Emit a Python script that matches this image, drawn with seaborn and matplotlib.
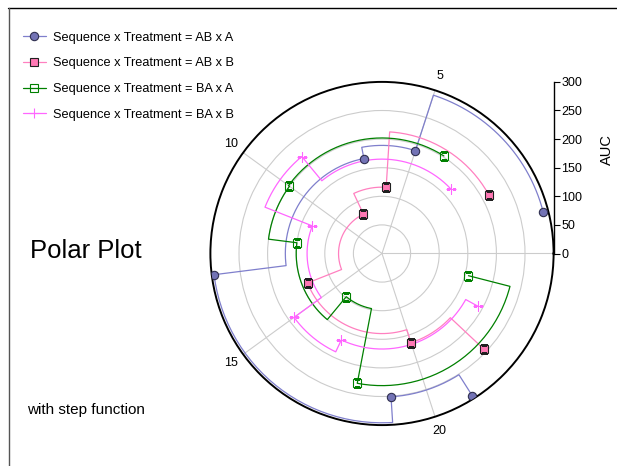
import numpy as np
import pandas as pd
import matplotlib
matplotlib.use("Agg")
import matplotlib.pyplot as plt
from matplotlib.lines import Line2D
import seaborn as sns

# subject number (angle) and AUC (radius) per sequence x treatment
ab_a_x = [1, 5, 7, 13, 19, 21]
ab_a_auc = [291, 189, 169, 296, 251, 295]
ab_b_x = [2, 6, 8, 14, 20, 22]
ab_b_auc = [213, 116, 76, 140, 164, 244]
ba_a_x = [4, 10, 12, 16, 18, 24]
ba_a_auc = [202, 200, 150, 98, 231, 156]
ba_b_x = [3, 9, 11, 15, 17, 23]
ba_b_auc = [165, 220, 131, 190, 167, 192]

labels = ["Sequence x Treatment = AB x A", "Sequence x Treatment = AB x B",
          "Sequence x Treatment = BA x A", "Sequence x Treatment = BA x B"]
theta_ticks = [0, 5, 10, 15, 20]
theta_labels = ["", "5", "10", "15", "20"]
r_grid = [50, 100, 150, 200, 250]
r_ticks = [0, 50, 100, 150, 200, 250, 300]
PERIOD = 25
RMAX = 300


def ang(x):
    return np.asarray(x, dtype=float) * 2 * np.pi / PERIOD


def step_path(xs, rs, n=60):
    # arc at r_i from x_i to x_(i+1), then radial jump to r_(i+1)
    th, rr = [], []
    for i in range(len(xs) - 1):
        t = np.linspace(ang(xs[i]), ang(xs[i + 1]), n)
        th.extend(t)
        rr.extend([rs[i]] * n)
    th.append(float(ang(xs[-1])))
    rr.append(rs[-1])
    return pd.DataFrame({"theta": th, "r": rr})


sns.set_theme(style="white")
plt.rcParams["font.family"] = ["Liberation Sans", "DejaVu Sans"]
plt.rcParams["text.color"] = "black"
plt.rcParams["xtick.color"] = "black"
plt.rcParams["ytick.color"] = "black"
plt.rcParams["xtick.labelcolor"] = "black"
plt.rcParams["ytick.labelcolor"] = "black"

fig = plt.figure(figsize=(6.17, 4.66), dpi=100)
fig.patch.set_facecolor("white")

ax = fig.add_axes([210.4 / 617, (466 - 253.5 - 171.6) / 466, 343.2 / 617, 343.2 / 466],
                  projection="polar")
ax.set_facecolor("none")
ax.set_ylim(0, RMAX)
ax.set_xticks(ang(theta_ticks))
ax.set_xticklabels(theta_labels, fontsize=9)
ax.set_yticks(r_grid)
ax.set_yticklabels([])
ax.grid(True, color="#cccccc", lw=0.8)
ax.spines["polar"].set_color("black")
ax.spines["polar"].set_linewidth(1.4)
ax.tick_params(axis="x", direction="in", length=5, width=0.8, color="black",
               labelcolor="black", pad=4)

series = [
    (ab_a_x, ab_a_auc, dict(color="#7f7fcc", marker="o", mfc="#7373b5", mec="#303050", ms=6)),
    (ab_b_x, ab_b_auc, dict(color="#ff80c0", marker="s", mfc="#ff78b4", mec="#202020", ms=6.4)),
    (ba_a_x, ba_a_auc, dict(color="#008000", marker="s", mfc="none", mec="#008000", ms=6)),
    (ba_b_x, ba_b_auc, dict(color="#ff66ff", marker="+", mfc="none", mec="#ff66ff", ms=7)),
]

handles = []
for (xs, rs, st), lab in zip(series, labels):
    df = step_path(xs, rs)
    sns.lineplot(x=df["theta"].values, y=df["r"].values, ax=ax, sort=False,
                 estimator=None, color=st["color"], lw=0.9)
    ax.plot(ang(xs), rs, ls="none", marker=st["marker"], mfc=st["mfc"],
            mec=st["mec"], ms=st["ms"], mew=0.8, zorder=5)
    handles.append(Line2D([], [], color=st["color"], lw=0.9, marker=st["marker"],
                          mfc=st["mfc"], mec=st["mec"], ms=st["ms"], mew=0.8))
ax.set_xlabel("")
ax.set_ylabel("")

# radial scale on the right
ax2 = fig.add_axes([553.5 / 617, (466 - 253.5) / 466, 0.0005, 171.6 / 466])
ax2.set_facecolor("none")
ax2.set_ylim(0, RMAX)
ax2.set_yticks(r_ticks)
for s in ["top", "bottom", "left"]:
    ax2.spines[s].set_visible(False)
ax2.spines["right"].set_color("black")
ax2.spines["right"].set_linewidth(1.0)
ax2.xaxis.set_visible(False)
ax2.yaxis.tick_right()
ax2.tick_params(axis="y", direction="out", length=4, width=0.8, color="black",
                labelcolor="black", labelsize=9, pad=1.5)
fig.text(607 / 617, 1 - 150 / 466, "AUC", fontsize=10.5, rotation=90,
         ha="center", va="center", color="black")

fig.legend(handles=handles, labels=labels, loc="upper left",
           bbox_to_anchor=(11 / 617, 1 - 20 / 466), frameon=False, fontsize=9.2,
           handlelength=1.85, handletextpad=0.55, labelspacing=1.08, numpoints=1,
           labelcolor="black")

fig.text(30 / 617, 1 - 251 / 466, "Polar Plot", fontsize=18.5, va="center", ha="left",
         color="black")
fig.text(27 / 617, 1 - 410 / 466, "with step function", fontsize=11, va="center",
         ha="left", color="black")

# outer frame lines
fig.add_artist(Line2D([8 / 617, 1], [1 - 8 / 466, 1 - 8 / 466], color="black", lw=1.0,
                      transform=fig.transFigure))
fig.add_artist(Line2D([9 / 617, 9 / 617], [0, 1 - 8 / 466], color="#555555", lw=1.0,
                      transform=fig.transFigure))

fig.savefig("out.png", dpi=100)
